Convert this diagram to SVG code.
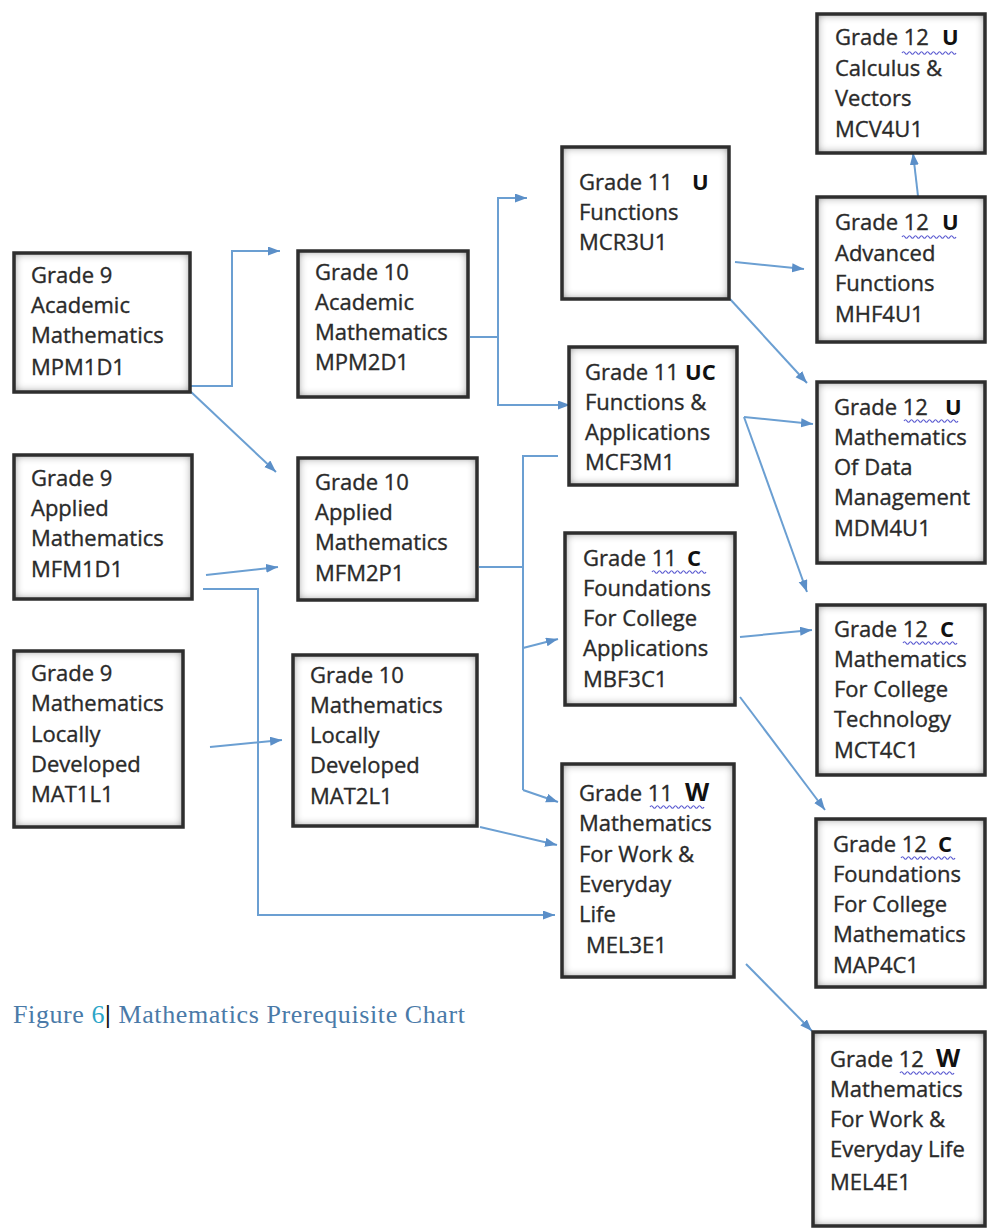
<svg xmlns="http://www.w3.org/2000/svg" width="987" height="1229" viewBox="0 0 987 1229">
<style>
.box{fill:#fff;filter:url(#inset)}
.bd{fill:none;stroke:#2e2e2e;stroke-width:3.5}
.t{font-family:"Open Sans","Liberation Sans",sans-serif;font-size:22px;fill:#2a2a2a;stroke:#2a2a2a;stroke-width:0.35}
.b{font-family:"Open Sans","Liberation Sans",sans-serif;font-size:22px;font-weight:bold;fill:#111}
.bw{font-family:"Open Sans","Liberation Sans",sans-serif;font-size:25px;font-weight:bold;fill:#111}
.c{fill:none;stroke:#6b9fd2;stroke-width:2}
.a{marker-end:url(#arr)}
.sq{fill:none;stroke:#5a5ad0;stroke-width:1.2}
.cap{font-family:"Liberation Serif",serif;font-size:26px;fill:#4a7aa8}
</style>
<defs>
<filter id="inset" x="-10%" y="-10%" width="120%" height="120%">
<feFlood flood-color="#3a3a3a" result="c"/>
<feComposite in="c" in2="SourceAlpha" operator="out" result="inv"/>
<feGaussianBlur in="inv" stdDeviation="5" result="bl"/>
<feComposite in="bl" in2="SourceAlpha" operator="in" result="sh"/>
<feMerge><feMergeNode in="SourceGraphic"/><feMergeNode in="sh"/></feMerge>
</filter>
<marker id="arr" markerUnits="userSpaceOnUse" markerWidth="13" markerHeight="10" refX="12" refY="4.5" orient="auto">
<path d="M0,0 L12,4.5 L0,9 z" fill="#5b8fc8"/>
</marker>
<path id="wv" class="sq" d="M0,0 q1.5,-2.5 3,0 t3,0 t3,0 t3,0 t3,0 t3,0 t3,0 t3,0 t3,0 t3,0 t3,0 t3,0 t3,0 t3,0 t3,0 t3,0 t3,0 t3,0"/>
</defs>

<g id="connectors">
<path class="c a" d="M190,386 H232 V251 H280"/>
<path class="c a" d="M190,391 L276,472"/>
<path class="c a" d="M206,575 L278,567"/>
<path class="c a" d="M203,589 H258 V915 H555"/>
<path class="c a" d="M210,747 L282,740"/>
<path class="c" d="M470,337 H498"/>
<path class="c a" d="M527,198 H498 V405 H570"/>
<path class="c a" d="M498,198 H527"/>
<path class="c" d="M479,567 H523"/>
<path class="c" d="M558,456 H523 V790"/>
<path class="c a" d="M523,790 L558,802"/>
<path class="c a" d="M523,648 L558,639"/>
<path class="c a" d="M480,827 L557,845"/>
<path class="c a" d="M735,262 L804,269"/>
<path class="c a" d="M730,299 L807,383"/>
<path class="c a" d="M918,196 L913,153"/>
<path class="c a" d="M744,417 L813,424"/>
<path class="c a" d="M744,417 L807,592"/>
<path class="c a" d="M740,637 L812,630"/>
<path class="c a" d="M740,697 L825,810"/>
<path class="c a" d="M746,964 L812,1031"/>
</g>

<g id="g9a"><rect class="box" x="14" y="253" width="176" height="139"/><rect class="bd" x="14" y="253" width="176" height="139"/>
<text class="t" x="31" y="283">Grade 9</text><text class="t" x="31" y="313">Academic</text><text class="t" x="31" y="343">Mathematics</text><text class="t" x="31" y="375">MPM1D1</text></g>

<g id="g9p"><rect class="box" x="14" y="455" width="178" height="144"/><rect class="bd" x="14" y="455" width="178" height="144"/>
<text class="t" x="31" y="486">Grade 9</text><text class="t" x="31" y="516">Applied</text><text class="t" x="31" y="546">Mathematics</text><text class="t" x="31" y="577">MFM1D1</text></g>

<g id="g9l"><rect class="box" x="14" y="651" width="169" height="176"/><rect class="bd" x="14" y="651" width="169" height="176"/>
<text class="t" x="31" y="681">Grade 9</text><text class="t" x="31" y="711">Mathematics</text><text class="t" x="31" y="742">Locally</text><text class="t" x="31" y="772">Developed</text><text class="t" x="31" y="802">MAT1L1</text></g>

<g id="g10a"><rect class="box" x="298" y="251" width="170" height="146"/><rect class="bd" x="298" y="251" width="170" height="146"/>
<text class="t" x="315" y="280">Grade 10</text><text class="t" x="315" y="310">Academic</text><text class="t" x="315" y="340">Mathematics</text><text class="t" x="315" y="370">MPM2D1</text></g>

<g id="g10p"><rect class="box" x="298" y="458" width="179" height="142"/><rect class="bd" x="298" y="458" width="179" height="142"/>
<text class="t" x="315" y="490">Grade 10</text><text class="t" x="315" y="520">Applied</text><text class="t" x="315" y="550">Mathematics</text><text class="t" x="315" y="581">MFM2P1</text></g>

<g id="g10l"><rect class="box" x="293" y="655" width="184" height="171"/><rect class="bd" x="293" y="655" width="184" height="171"/>
<text class="t" x="310" y="683">Grade 10</text><text class="t" x="310" y="713">Mathematics</text><text class="t" x="310" y="743">Locally</text><text class="t" x="310" y="773">Developed</text><text class="t" x="310" y="804">MAT2L1</text></g>

<g id="g11u"><rect class="box" x="562" y="147" width="167" height="152"/><rect class="bd" x="562" y="147" width="167" height="152"/>
<text class="t" x="579" y="190">Grade 11</text><text class="b" x="692" y="190">U</text><text class="t" x="579" y="220">Functions</text><text class="t" x="579" y="250">MCR3U1</text></g>

<g id="g11uc"><rect class="box" x="569" y="347" width="168" height="138"/><rect class="bd" x="569" y="347" width="168" height="138"/>
<text class="t" x="585" y="380">Grade 11</text><text class="b" x="685" y="380">UC</text><text class="t" x="585" y="410">Functions &amp;</text><text class="t" x="585" y="440">Applications</text><text class="t" x="585" y="470">MCF3M1</text></g>

<g id="g11c"><rect class="box" x="565" y="533" width="170" height="172"/><rect class="bd" x="565" y="533" width="170" height="172"/>
<text class="t" x="583" y="566">Grade 11</text><text class="b" x="687" y="566">C</text><use href="#wv" x="652" y="572"/><text class="t" x="583" y="596">Foundations</text><text class="t" x="583" y="626">For College</text><text class="t" x="583" y="656">Applications</text><text class="t" x="583" y="687">MBF3C1</text></g>

<g id="g11w"><rect class="box" x="562" y="764" width="172" height="213"/><rect class="bd" x="562" y="764" width="172" height="213"/>
<text class="t" x="579" y="801">Grade 11</text><text class="bw" x="685" y="801">W</text><use href="#wv" x="650" y="807"/><text class="t" x="579" y="831">Mathematics</text><text class="t" x="579" y="862">For Work &amp;</text><text class="t" x="579" y="892">Everyday</text><text class="t" x="579" y="922">Life</text><text class="t" x="586" y="953">MEL3E1</text></g>

<g id="g12cv"><rect class="box" x="817" y="14" width="168" height="139"/><rect class="bd" x="817" y="14" width="168" height="139"/>
<text class="t" x="835" y="45">Grade 12</text><text class="b" x="942" y="45">U</text><use href="#wv" x="902" y="53"/><text class="t" x="835" y="76">Calculus &amp;</text><text class="t" x="835" y="106">Vectors</text><text class="t" x="835" y="137">MCV4U1</text></g>

<g id="g12af"><rect class="box" x="817" y="197" width="168" height="145"/><rect class="bd" x="817" y="197" width="168" height="145"/>
<text class="t" x="835" y="230">Grade 12</text><text class="b" x="942" y="230">U</text><use href="#wv" x="902" y="237"/><text class="t" x="835" y="261">Advanced</text><text class="t" x="835" y="291">Functions</text><text class="t" x="835" y="322">MHF4U1</text></g>

<g id="g12dm"><rect class="box" x="817" y="382" width="168" height="181"/><rect class="bd" x="817" y="382" width="168" height="181"/>
<text class="t" x="834" y="415">Grade 12</text><text class="b" x="945" y="415">U</text><use href="#wv" x="904" y="421"/><text class="t" x="834" y="445">Mathematics</text><text class="t" x="834" y="475">Of Data</text><text class="t" x="834" y="505">Management</text><text class="t" x="834" y="536">MDM4U1</text></g>

<g id="g12ct"><rect class="box" x="817" y="605" width="168" height="170"/><rect class="bd" x="817" y="605" width="168" height="170"/>
<text class="t" x="834" y="637">Grade 12</text><text class="b" x="940" y="637">C</text><use href="#wv" x="903" y="643"/><text class="t" x="834" y="667">Mathematics</text><text class="t" x="834" y="697">For College</text><text class="t" x="834" y="727">Technology</text><text class="t" x="834" y="758">MCT4C1</text></g>

<g id="g12ap"><rect class="box" x="816" y="819" width="169" height="168"/><rect class="bd" x="816" y="819" width="169" height="168"/>
<text class="t" x="833" y="852">Grade 12</text><text class="b" x="938" y="852">C</text><use href="#wv" x="901" y="858"/><text class="t" x="833" y="882">Foundations</text><text class="t" x="833" y="912">For College</text><text class="t" x="833" y="942">Mathematics</text><text class="t" x="833" y="973">MAP4C1</text></g>

<g id="g12el"><rect class="box" x="813" y="1032" width="172" height="194"/><rect class="bd" x="813" y="1032" width="172" height="194"/>
<text class="t" x="830" y="1067">Grade 12</text><text class="bw" x="936" y="1067">W</text><use href="#wv" x="900" y="1073"/><text class="t" x="830" y="1097">Mathematics</text><text class="t" x="830" y="1127">For Work &amp;</text><text class="t" x="830" y="1157">Everyday Life</text><text class="t" x="830" y="1190">MEL4E1</text></g>

<g id="caption"><text class="cap" x="13" y="1023" textLength="452" lengthAdjust="spacing">Figure <tspan fill="#2aa5c8">6</tspan><tspan fill="#111" font-weight="bold">|</tspan> Mathematics Prerequisite Chart</text></g>
</svg>
